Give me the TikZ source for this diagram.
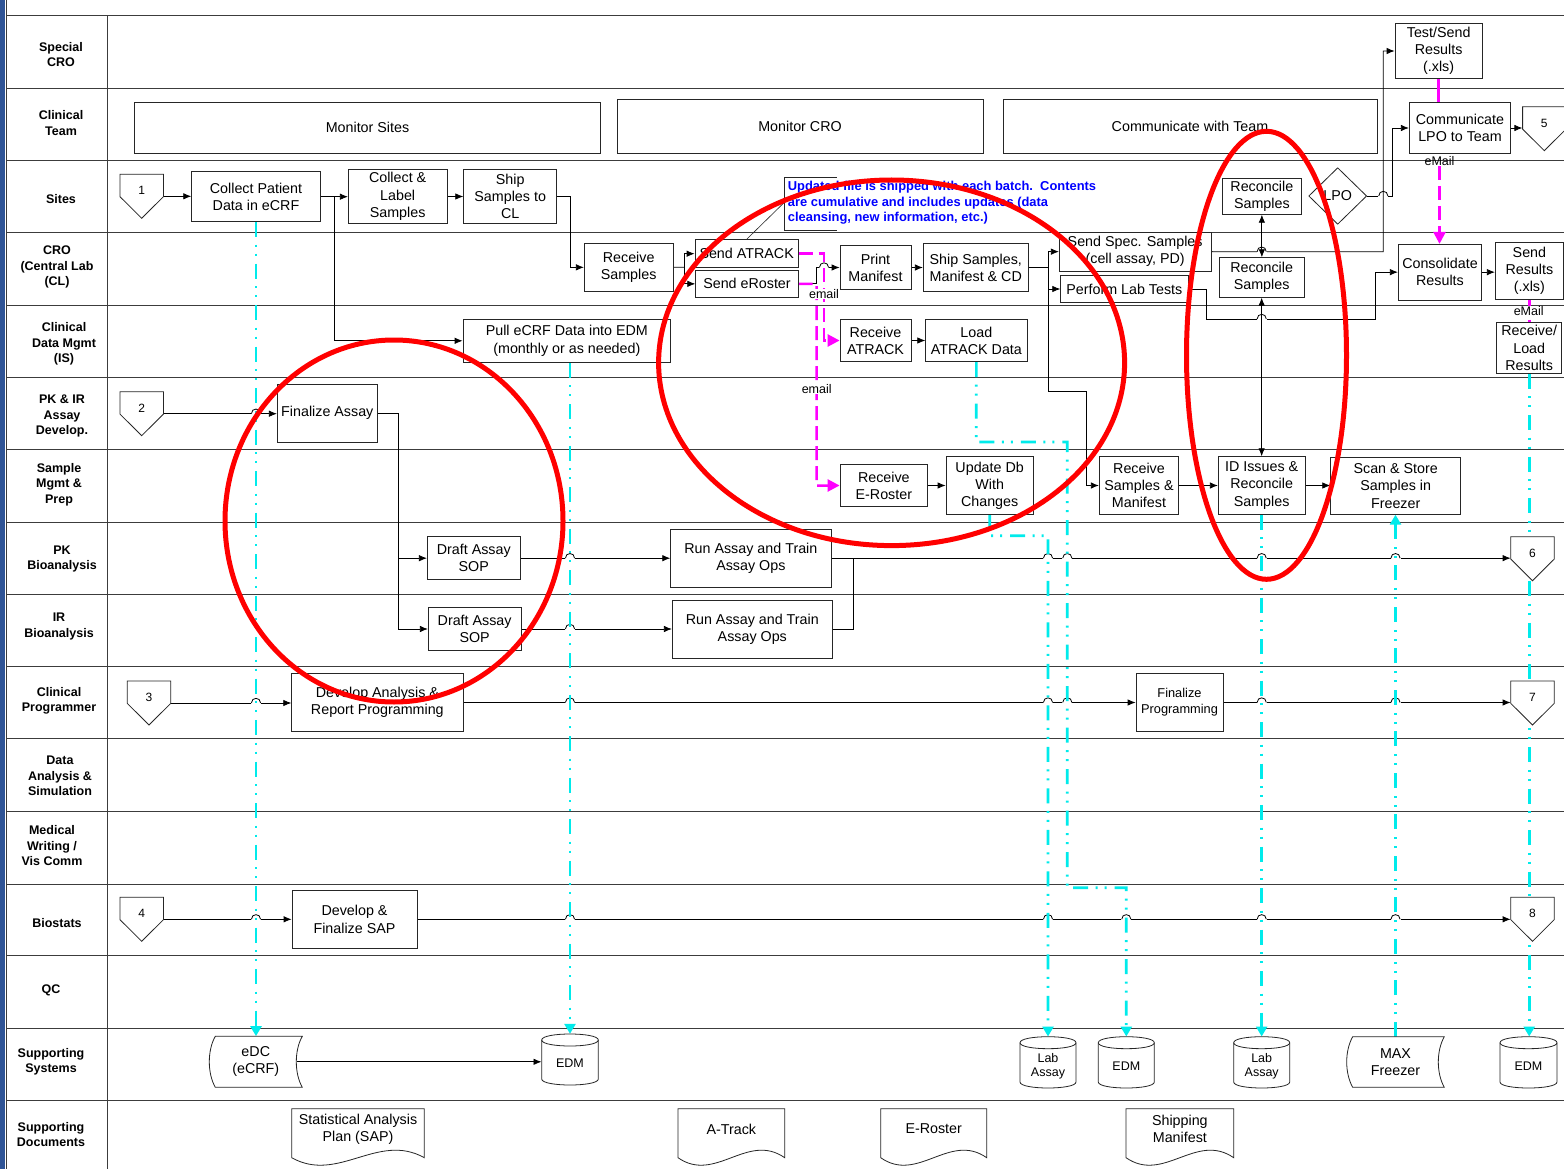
\documentclass[tikz,border=0pt]{standalone}
\usepackage{fontspec}
\setmainfont{Liberation Sans}
\usetikzlibrary{arrows.meta,shapes.geometric}
\pgfdeclarelayer{bg}
\pgfdeclarelayer{conn}
\pgfdeclarelayer{fg}
\pgfsetlayers{bg,conn,main,fg}
\definecolor{cy}{RGB}{0,235,235}
\definecolor{mg}{RGB}{255,0,255}
\definecolor{barblue}{RGB}{47,84,150}
\definecolor{lanec}{RGB}{60,60,60}
\definecolor{annblue}{RGB}{0,0,255}
\newcommand\bxf{\fontsize{14.3}{17.2}\selectfont}
\newcommand\lbf{\fontsize{12.5}{15.5}\selectfont\bfseries}
\newcommand\smf{\fontsize{12.5}{14.8}\selectfont}
\newcommand\fpf{\fontsize{12.8}{15.7}\selectfont}
\newcommand\nmf{\fontsize{12}{14}\selectfont}
\newcommand\annf{\fontsize{12.9}{15.5}\selectfont\bfseries}
\tikzset{
 box/.style={draw=black!85, fill=white, line width=0.8pt, inner sep=0pt, align=center, font=\bxf},
 hid/.style={inner sep=0pt, align=center, font=\bxf},
 shp/.style={draw=black!85, fill=white, line width=0.8pt},
 conn/.style={line width=0.8pt, black},
 arr/.style={conn, -{Latex[length=8pt,width=6.5pt]}},
 darr/.style={conn, {Latex[length=8pt,width=6.5pt]}-{Latex[length=8pt,width=6.5pt]}},
 cyline/.style={cy, line width=2.7pt, dash pattern=on 15pt off 7.5pt on 2pt off 7pt on 2pt off 8pt, -{Triangle[length=10pt,width=11pt]}},
 mgline/.style={mg, line width=2.5pt, dash pattern=on 14pt off 6pt},
 mgtip/.style={-{Triangle[length=12pt,width=12pt]}},
 laneline/.style={lanec, line width=0.9pt},
 lanelbl/.style={font=\lbf, align=center, inner sep=0pt},
 redring/.style={red, line width=5pt},
 lblm/.style={font=\smf, inner sep=0.6pt},
}
% box by corners: name, x1, y1, x2, y2, text
\newcommand\mkbox[6]{\node[box, minimum width={#4-#2}, minimum height={#5-#3}] (#1) at ({(#2+#4)/2},{(#3+#5)/2}) {#6};}
% off-page connector: name, cx, top, label
\newcommand\mkpent[4]{%
 \draw[shp] (#2-21.7,#3) -- (#2+21.7,#3) -- (#2+21.7,#3+22.4) -- (#2,#3+44) -- (#2-21.7,#3+22.4) -- cycle;
 \node[inner sep=0pt, minimum width=43.4, minimum height=44] (#1) at (#2,#3+22) {};
 \node[font=\nmf, inner sep=0pt] (#1t) at (#2,#3+16.5) {#4};}
% document: name, x1, top, x2, base, text
\newcommand\mkdoc[6]{%
 \draw[shp] (#2,#3) -- (#4,#3) -- (#4,#5) .. controls ({#2+0.65*(#4-#2)},#5-26) and ({#2+0.35*(#4-#2)},#5+26) .. (#2,#5) -- cycle;
 \node[hid, minimum width={#4-#2}] (#1) at ({(#2+#4)/2},1129) {#6};}
% stored data: name, xleft(bulge), y1, xright(corner), y2, text
\newcommand\mkstore[6]{%
 \draw[shp] (#2+6,#3) -- (#4,#3) .. controls (#4-8,#3+14) and (#4-8,#5-14) .. (#4,#5) -- (#2+6,#5) .. controls (#2-2,#5-14) and (#2-2,#3+14) .. (#2+6,#3) -- cycle;
 \node[hid, minimum width={#4-#2}, minimum height={#5-#3}] (#1) at ({(#2+#4)/2},{(#3+#5)/2}) {#6};}
% cylinder: name, x1, top, x2, bottom, text
\newcommand\mkcyl[6]{%
 \draw[shp] (#2,#3+6) .. controls (#2,#3-2) and (#4,#3-2) .. (#4,#3+6) -- (#4,#5-6) .. controls (#4,#5+2) and (#2,#5+2) .. (#2,#5-6) -- cycle;
 \draw[shp, fill=none] (#2,#3+6) .. controls (#2,#3+14) and (#4,#3+14) .. (#4,#3+6);
 \node[inner sep=0pt, minimum width={#4-#2}, minimum height={#5-#3}] (#1) at ({(#2+#4)/2},{(#3+#5)/2}) {};
 \node[font=\smf, align=center, inner sep=0pt] (#1t) at ({(#2+#4)/2},{(#3+#5)/2+4}) {#6};}
% line jump at x, y
\newcommand\mkhop[2]{%
 \fill[white] (#1-5,#2-1.6) rectangle (#1+5,#2+1.6);
 \draw[conn] (#1-4.6,#2) .. controls (#1-4.6,#2-6.2) and (#1+4.6,#2-6.2) .. (#1+4.6,#2);}

\begin{document}
\begin{tikzpicture}[x=1pt,y=-1pt]
\useasboundingbox (0,0) rectangle (1564,1169);
\begin{pgfonlayer}{bg}
 \fill[white] (0,0) rectangle (1564,1169);
 \fill[barblue] (0,0) rectangle (5,1169);
 \draw[laneline] (6.2,0) -- (6.2,1169);
 \draw[laneline] (107.3,15.7) -- (107.3,1169);
 \foreach \yy in {15.7,88.3,160.3,232.3,305,377.3,449.7,522,594,666.7,738.7,811,884.3,955.7,1028,1100.3}
   \draw[laneline] (6.2,\yy) -- (1564,\yy);
\end{pgfonlayer}

% lane labels
\node[lanelbl] (L1) at (61,54.5) {Special\\CRO};
\node[lanelbl] (L2) at (61,123) {Clinical\\Team};
\node[lanelbl] (L3) at (61,199) {Sites};
\node[lanelbl] (L4) at (57,267) {CRO\\(Central Lab\\(CL)};
\node[lanelbl] (L5) at (64,344) {Clinical\\Data Mgmt\\(IS)};
\node[lanelbl] (L6) at (62,416) {PK \& IR\\Assay\\Develop.};
\node[lanelbl] (L7) at (59,484.5) {Sample\\Mgmt \&\\Prep};
\node[lanelbl] (L8) at (62,559) {PK\\Bioanalysis};
\node[lanelbl] (L9) at (59,626.5) {IR\\Bioanalysis};
\node[lanelbl] (L10) at (59,701) {Clinical\\Programmer};
\node[lanelbl] (L11) at (60,776) {Data\\Analysis \&\\Simulation};
\node[lanelbl] (L12) at (52,846) {Medical\\Writing /\\Vis Comm};
\node[lanelbl] (L13) at (57,922.7) {Biostats};
\node[lanelbl] (L14) at (51,990.3) {QC};
\node[lanelbl] (L15) at (51,1061.7) {Supporting\\Systems};
\node[lanelbl] (L16) at (51,1134.3) {Supporting\\Documents};

% boxes
\mkbox{tsr}{1395}{23.3}{1482.3}{78.7}{Test/Send\\Results\\(.xls)}
\mkbox{ms}{134.3}{102.3}{600.7}{153.3}{Monitor Sites}
\mkbox{mc}{617}{99}{983}{153.3}{Monitor CRO}
\mkbox{cwt}{1003}{99}{1377}{153.3}{Communicate with Team}
\mkbox{clt}{1409.3}{102.7}{1510.7}{153.3}{Communicate\\LPO to Team}
\mkbox{cpd}{191.7}{171.7}{320.3}{221.7}{Collect Patient\\Data in eCRF}
\mkbox{cls}{348.3}{169.3}{447}{223.7}{Collect \&\\Label\\Samples}
\mkbox{ssc}{463.7}{169.3}{556.7}{223.7}{Ship\\Samples to\\CL}
\mkbox{rcU}{1222}{178.3}{1301.7}{214.3}{Reconcile\\Samples}
\node[draw=black!85, fill=white, line width=0.8pt, diamond, inner sep=0pt, minimum width=58, minimum height=56.6, font=\bxf] (lpo) at (1337.7,196) {LPO};
\mkbox{rs}{584.3}{243}{673}{291.7}{Receive\\Samples}
\mkbox{sat}{695}{239.7}{798.3}{267.7}{Send ATRACK}
\mkbox{ser}{695.7}{270}{798.3}{297.7}{Send eRoster}
\mkbox{pm}{840}{245.7}{911}{289.3}{Print\\Manifest}
\mkbox{ssm}{923.3}{243.3}{1028.3}{291.7}{Ship Samples,\\Manifest \& CD}
\mkbox{ssp}{1059.3}{232.3}{1211}{271}{Send Spec. Samples\\(cell assay, PD)}
\mkbox{plt}{1060.7}{275.7}{1188}{302.3}{Perform Lab Tests}
\mkbox{rcL}{1219.3}{257.7}{1304}{297.3}{Reconcile\\Samples}
\mkbox{cr}{1398.3}{244.3}{1481.7}{300}{Consolidate\\Results}
\mkbox{sr}{1495.3}{242.7}{1563.5}{299.3}{Send\\Results\\(.xls)}
\mkbox{pull}{463}{319.3}{670.7}{362.3}{Pull eCRF Data into EDM\\(monthly or as needed)}
\mkbox{ra}{840}{319.3}{911}{361.7}{Receive\\ATRACK}
\mkbox{la}{925.7}{319.3}{1027}{361.7}{Load\\ATRACK Data}
\mkbox{rlr}{1496.7}{322.7}{1561.7}{373.3}{Receive/\\Load\\Results}
\mkbox{fa}{277.3}{384.3}{377.3}{442.3}{Finalize Assay}
\mkbox{rer}{840}{464.3}{927.7}{506.7}{Receive\\E-Roster}
\mkbox{udb}{946}{456.7}{1033.3}{514.3}{Update Db\\With\\Changes}
\mkbox{rsm}{1099.3}{456.7}{1178.7}{514.3}{Receive\\Samples \&\\Manifest}
\mkbox{idr}{1218.3}{456.7}{1305}{514.3}{ID Issues \&\\Reconcile\\Samples}
\mkbox{sss}{1330.7}{457.7}{1460.7}{514.3}{Scan \& Store\\Samples in\\Freezer}
\mkbox{dpk}{427.3}{536.7}{520.3}{579.7}{Draft Assay\\SOP}
\mkbox{rpk}{670.7}{529.3}{831}{587}{Run Assay and Train\\Assay Ops}
\mkbox{dir}{428.3}{607.7}{521}{650.3}{Draft Assay\\SOP}
\mkbox{rir}{672.3}{600}{832.3}{658}{Run Assay and Train\\Assay Ops}
\mkbox{dar}{291.7}{673.7}{463}{731.3}{Develop Analysis \&\\Report Programming}
\node[box, font=\fpf, minimum width=87, minimum height=57.6] (fp) at (1179.5,702.5) {Finalize\\Programming};
\mkbox{sap}{292}{890.3}{417}{948.3}{Develop \&\\Finalize SAP}

% off-page connectors
\mkpent{p1}{141.7}{174.3}{1}
\mkpent{p2}{141.7}{391.7}{2}
\mkpent{p3}{149}{681}{3}
\mkpent{p4}{141.7}{897.3}{4}
\mkpent{p5}{1544.3}{106.7}{5}
\mkpent{p6}{1532.5}{536.7}{6}
\mkpent{p7}{1532.5}{681}{7}
\mkpent{p8}{1532.5}{897.3}{8}

% supporting systems
\mkstore{edc}{209.3}{1036.3}{302.3}{1087.3}{eDC\\(eCRF)}
\mkstore{maxf}{1346.7}{1036.7}{1444.3}{1087.3}{MAX\\Freezer}
\mkcyl{edm1}{541.7}{1034}{598.3}{1085}{EDM}
\mkcyl{lab1}{1020}{1036.7}{1076}{1088}{Lab\\Assay}
\mkcyl{edm2}{1098.3}{1036.7}{1154.3}{1088}{EDM}
\mkcyl{lab2}{1233.7}{1036.7}{1289.7}{1088}{Lab\\Assay}
\mkcyl{edm3}{1500}{1036.7}{1557}{1088}{EDM}

% supporting documents
\mkdoc{sapdoc}{291.7}{1108.7}{424.3}{1157.7}{Statistical Analysis\\Plan (SAP)}
\mkdoc{atr}{678}{1108.7}{784.7}{1157.7}{A-Track}
\mkdoc{ero}{880.7}{1108.7}{986.7}{1157.7}{E-Roster}
\mkdoc{shm}{1126}{1108.7}{1233.7}{1157.7}{Shipping\\Manifest}

% annotation
\node[anchor=north west, font=\annf, text=annblue, align=left, inner sep=0pt] (annt) at (787.7,181)
 {Updated file is shipped with each batch.\ \ Contents\\are cumulative and includes updates (data\\cleansing, new information, etc.)};
\draw[line width=0.6pt, black!85] (836.7,177.7) -- (784.3,177.7) -- (784.3,230) -- (836.7,230);
\coordinate (ann) at (785,201.7);

% labels on magenta lines
\node[lblm] (em1) at (1439.5,161) {eMail};
\node[lblm, fill=white] (em2) at (1528.7,310.7) {eMail};
\node[lblm, fill=white] (em3) at (824,294) {email};
\node[lblm, fill=white] (em4) at (816.7,389.3) {email};

% junction coordinates
\coordinate (b1) at (334.3,196.7);
\coordinate (b2) at (570,196.5);
\coordinate (b3) at (684.3,267.3);
\coordinate (b4) at (816.5,267.5);
\coordinate (b5) at (1048.3,267.5);
\coordinate (b6) at (1048.3,391.7);
\coordinate (b7) at (1086.7,391.7);
\coordinate (b8) at (1383.3,251.7);
\coordinate (b9) at (1206.7,319);
\coordinate (b10) at (1375,319);
\coordinate (b11) at (1392.7,196);
\coordinate (b12) at (398.7,413.3);
\coordinate (b13) at (853.3,558.2);
\coordinate (c1) at (976.3,442);
\coordinate (c2) at (1067.3,442);
\coordinate (c3) at (1067.3,887.7);
\coordinate (c4) at (1126.3,887.7);
\coordinate (c5) at (989.7,535.7);
\coordinate (c6) at (1048,535.7);
\coordinate (m1) at (824,253.7);
\coordinate (m2) at (824,340.5);
\coordinate (m3) at (816.5,283.8);
\coordinate (m4) at (816.5,485.5);

\begin{pgfonlayer}{conn}
 % black connectors
 \draw[arr] (p1.east) -- (p1.east -| cpd.west);
 \draw[arr] (cpd.east) -- (cpd.east -| cls.west);
 \draw[arr] (b1) |- (pull.west);
 \draw[arr] (cls.east) -- (cls.east -| ssc.west);
 \draw[arr] (ssc.east) -- (b2) |- (rs.west);
 \draw[conn] (rs.east) -- (b3);
 \draw[arr] (b3) |- (sat.west);
 \draw[arr] (b3) |- (ser.west);
 \draw[arr] (ser.east) -| (b4) -- (pm.west);
 \draw[arr] (pm.east) -- (pm.east -| ssm.west);
 \draw[conn] (ssm.east) -- (b5);
 \draw[arr] (b5) |- (ssp.west);
 \draw[arr] (b5) |- (plt.west);
 \draw[arr] (b5) -- (b6) -- (b7) |- (rsm.west);
 \draw[arr] (rsm.east) -- (rsm.east -| idr.west);
 \draw[arr] (idr.east) -- (idr.east -| sss.west);
 \draw[arr] (ra.east) -- (ra.east -| la.west);
 \draw[arr] (rer.east) -- (rer.east -| udb.west);
 \draw[arr] (plt.east) -| (b9) -- (b10) |- (cr.west);
 \draw[arr] (lpo.east) -- (b11) |- (clt.west);
 \mkhop{1383.3}{196}
 \draw[arr] (ssp.east) -- (b8) |- (tsr.west);
 \draw[arr] (clt.east) -- (clt.east -| p5.west);
 \draw[arr] (cr.east) -- (cr.east -| sr.west);
 \draw[arr] (p2.east) -- (p2.east -| fa.west);
 \draw[conn] (fa.east) -- (b12);
 \draw[arr] (b12) |- (dpk.west);
 \draw[arr] (b12) |- (dir.west);
 \draw[arr] (dpk.east) -- (dpk.east -| rpk.west);
 \draw[arr] (dir.east) -- (dir.east -| rir.west);
 \draw[arr] (rpk.east) -- (rpk.east -| p6.west);
 \draw[conn] (rir.east) -| (b13);
 \draw[arr] (p3.east) -- (p3.east -| dar.west);
 \draw[arr] (dar.east) -- (dar.east -| fp.west);
 \draw[arr] (fp.east) -- (fp.east -| p7.west);
 \draw[arr] (p4.east) -- (p4.east -| sap.west);
 \draw[arr] (sap.east) -- (sap.east -| p8.west);
 \draw[arr] ([xshift=-5.6pt]edc.east) -- (edc.east -| edm1.west);
 \draw[line width=0.6pt, black!85] (sat.north) -- (ann);
 % line jumps
 \mkhop{824}{267.5}
 \mkhop{1261.7}{251.7}
 \mkhop{1261.7}{319}
 \mkhop{256}{413.7}
 \mkhop{570}{558.2}
 \mkhop{570}{629}
 \foreach \xx in {1048,1067.3,1261.7,1395.5} {\mkhop{\xx}{558.2}}
 \mkhop{256}{703}
 \foreach \xx in {570,1048,1067.3,1261.7,1395.5} {\mkhop{\xx}{702.5}}
 \foreach \xx in {256,570,1048,1126.3,1261.7,1395.5} {\mkhop{\xx}{919.3}}
 % vertical double arrows (over jumps)
 \draw[darr] (rcU.south) -- (rcU.south |- rcL.north);
 \draw[darr] (rcL.south) -- (rcL.south |- idr.north);
 % cyan data links
 \draw[cyline] (cpd.south) -- (cpd.south |- edc.north);
 \draw[cyline] (edm1.north |- pull.south) -- (edm1.north);
 \draw[cyline] (la.south) -- (c1) -- (c2) -- (c3) -- (c4) -- (edm2.north);
 \draw[cyline] (udb.south) -- (c5) -- (c6) -- (lab1.north);
 \draw[cyline] (idr.south) -- (idr.south |- lab2.north);
 \draw[cyline] (maxf.north) -- (maxf.north |- sss.south);
 \draw[cyline] (rlr.south) -- (rlr.south |- edm3.north);
 % magenta links
 \draw[mg, line width=2.5pt] (tsr.south) -- (tsr.south |- clt.north);
 \draw[mgline, mgtip] (em1.south) -- (em1.south |- cr.north);
 \draw[mgline] (sr.south) -- (sr.south |- rlr.north);
 \draw[mgline, mgtip] (sat.east) -- (m1) -- (m2) -- (ra.west);
 \draw[mgline, mgtip] (ser.east) -- (m3) -- (m4) -- (rer.west);
\end{pgfonlayer}

\begin{pgfonlayer}{fg}
 \draw[redring] (394,521) ellipse [x radius=169pt, y radius=181pt];
 \draw[redring] (891.6,362.8) ellipse [x radius=233pt, y radius=182.8pt];
 \draw[redring] (1266.5,355.3) ellipse [x radius=80pt, y radius=224pt];
\end{pgfonlayer}
\end{tikzpicture}
\end{document}
